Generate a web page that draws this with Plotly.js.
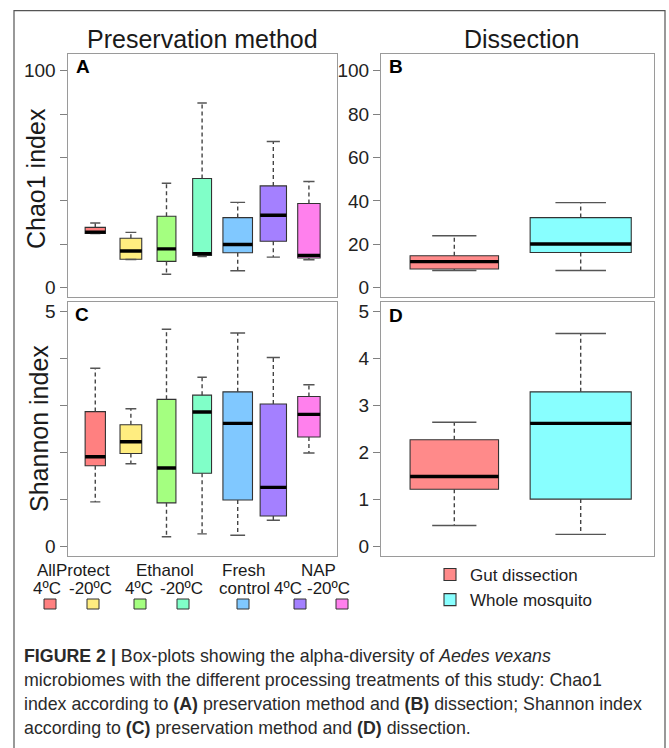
<!DOCTYPE html>
<html>
<head>
<meta charset="utf-8">
<script src="https://cdn.plot.ly/plotly-3.0.1.min.js"></script>
<style>html,body{margin:0;padding:0;background:#fff;}#chart{width:669px;height:748px;}</style>
</head>
<body>
<div id="chart"></div>
<script>
// ---------- DATA ----------
const methods = ['AllProtect 4ºC', 'AllProtect -20ºC', 'Ethanol 4ºC', 'Ethanol -20ºC', 'Fresh control', 'NAP 4ºC', 'NAP -20ºC'];
const chaoMethodLower = [24.9, 13.0, 6.2, 14.4, 7.8, 14.1, 12.9];
const chaoMethodQ1    = [25.0, 13.1, 12.1, 14.9, 16.1, 21.4, 13.7];
const chaoMethodMed   = [25.6, 16.9, 17.9, 15.7, 19.9, 33.4, 14.9];
const chaoMethodQ3    = [27.8, 22.8, 32.9, 50.3, 32.3, 46.9, 38.8];
const chaoMethodUpper = [29.8, 25.5, 48.1, 85.1, 39.3, 67.4, 48.9];

const shanMethodLower = [0.95, 1.76, 0.21, 0.27, 0.24, 0.56, 1.99];
const shanMethodQ1    = [1.72, 1.98, 0.93, 1.56, 0.99, 0.65, 2.33];
const shanMethodMed   = [1.91, 2.23, 1.67, 2.86, 2.62, 1.26, 2.81];
const shanMethodQ3    = [2.87, 2.59, 3.13, 3.22, 3.29, 3.03, 3.19];
const shanMethodUpper = [3.79, 2.93, 4.62, 3.60, 4.54, 4.02, 3.44];

const dissections = ['Gut dissection', 'Whole mosquito'];
const chaoDissLower = [7.9, 7.9];
const chaoDissQ1    = [8.6, 16.2];
const chaoDissMed   = [12.0, 20.1];
const chaoDissQ3    = [14.7, 32.3];
const chaoDissUpper = [23.9, 39.2];

const shanDissLower = [0.45, 0.26];
const shanDissQ1    = [1.22, 1.01];
const shanDissMed   = [1.49, 2.62];
const shanDissQ3    = [2.27, 3.29];
const shanDissUpper = [2.645, 4.53];

const chaoTicks = [0, 20, 40, 60, 80, 100];
const chaoTickTextA = ['0', '', '', '', '', '100'];
const chaoTickTextB = ['0', '20', '40', '60', '80', '100'];
const shanTicks = [0, 1, 2, 3, 4, 5];
const shanTickTextC = ['0', '', '', '', '', '5'];
const shanTickTextD = ['0', '1', '2', '3', '4', '5'];

const groupLabels = ['AllProtect', 'Ethanol', 'Fresh', 'NAP'];
const subLabels = ['4ºC', '-20ºC', '4ºC', '-20ºC', 'control', '4ºC', '-20ºC'];

// ---------- STYLE ----------
const methodColors = ['#FF8080', '#FFED80', '#A4FF80', '#80FFC8', '#80C8FF', '#A480FF', '#FF80ED'];
const dissColors = ['#FF8A8A', '#88FFFF'];
const methodWidths = [0.57, 0.61, 0.53, 0.53, 0.83, 0.74, 0.63];
const dissWidths = [0.70, 0.80];
const FONT = 'Liberation Sans, Arial, sans-serif';
const W = 669, H = 748;
const px = x => x / W;
const py = y => 1 - y / H;

const traces = [];
function addBoxes(names, lower, q1, med, q3, upper, colors, widths, xa, ya, legend) {
  const wx = [], wy = [], cx = [], cy = [], mx = [], my = [];
  names.forEach((n, i) => {
    const pos = i + 1;
    traces.push({
      type: 'box', name: n, x: [pos],
      q1: [q1[i]], median: [med[i]], q3: [q3[i]],
      lowerfence: [q1[i]], upperfence: [q3[i]],
      width: widths[i], whiskerwidth: 0,
      fillcolor: colors[i], line: { color: '#333333', width: 1.1 },
      xaxis: xa, yaxis: ya, showlegend: legend, hoverinfo: 'skip'
    });
    const h = widths[i] / 2, c = widths[i] / 4;
    wx.push(pos, pos, null, pos, pos, null);
    wy.push(q3[i], upper[i], null, q1[i], lower[i], null);
    cx.push(pos - c, pos + c, null, pos - c, pos + c, null);
    cy.push(upper[i], upper[i], null, lower[i], lower[i], null);
    mx.push(pos - h, pos + h, null);
    my.push(med[i], med[i], null);
  });
  traces.push({ type: 'scatter', mode: 'lines', x: wx, y: wy, xaxis: xa, yaxis: ya, showlegend: false, hoverinfo: 'skip',
    line: { color: '#444', width: 1.4, dash: '4px,3px' } });
  traces.push({ type: 'scatter', mode: 'lines', x: cx, y: cy, xaxis: xa, yaxis: ya, showlegend: false, hoverinfo: 'skip',
    line: { color: '#555', width: 1.4 } });
  traces.push({ type: 'scatter', mode: 'lines', x: mx, y: my, xaxis: xa, yaxis: ya, showlegend: false, hoverinfo: 'skip',
    line: { color: '#000', width: 3.4 } });
}

addBoxes(methods, chaoMethodLower, chaoMethodQ1, chaoMethodMed, chaoMethodQ3, chaoMethodUpper, methodColors, methodWidths, 'x', 'y', false);
addBoxes(dissections, chaoDissLower, chaoDissQ1, chaoDissMed, chaoDissQ3, chaoDissUpper, dissColors, dissWidths, 'x2', 'y2', false);
addBoxes(methods, shanMethodLower, shanMethodQ1, shanMethodMed, shanMethodQ3, shanMethodUpper, methodColors, methodWidths, 'x3', 'y3', false);
addBoxes(dissections, shanDissLower, shanDissQ1, shanDissMed, shanDissQ3, shanDissUpper, dissColors, dissWidths, 'x4', 'y4', true);

const axBase = {
  showgrid: false, zeroline: false, showline: true, mirror: true,
  linecolor: '#9a9a9a', linewidth: 1, fixedrange: true
};
const xBase = Object.assign({}, axBase, { showticklabels: false, ticks: '' });
const yBase = Object.assign({}, axBase, {
  ticks: 'outside', ticklen: 7, tickcolor: '#808080', tickwidth: 1,
  tickfont: { family: FONT, size: 19, color: '#222' }, tickmode: 'array'
});

const colL = [px(67.5), px(336.7)];
const colR = [px(381), px(654)];
const rowT = [py(297), py(54)];
const rowB = [py(556), py(302)];

const annotations = [];
function ann(text, x, y, size, opts) {
  annotations.push(Object.assign({
    text: text, x: px(x), y: py(y), xref: 'paper', yref: 'paper', showarrow: false,
    font: { family: FONT, size: size, color: '#1a1a1a' }, xanchor: 'center', yanchor: 'middle'
  }, opts || {}));
}
ann('Preservation method', 202, 39, 25);
ann('Dissection', 521, 39, 25);
ann('Chao1 index', 36, 179, 25, { textangle: -90 });
ann('Shannon index', 39, 429, 25, { textangle: -90 });
ann('<b>A</b>', 74, 66, 19, { xanchor: 'left', font: { family: FONT, size: 19, color: '#000' } });
ann('<b>B</b>', 387, 66, 19, { xanchor: 'left', font: { family: FONT, size: 19, color: '#000' } });
ann('<b>C</b>', 73, 314, 19, { xanchor: 'left', font: { family: FONT, size: 19, color: '#000' } });
ann('<b>D</b>', 387, 315, 19, { xanchor: 'left', font: { family: FONT, size: 19, color: '#000' } });

const groupX = [73, 165, 243, 318];
groupLabels.forEach((t, i) => ann(t, groupX[i], 570, 17));
const subX = [47, 90, 139, 181, 244, 288, 328];
subLabels.forEach((t, i) => ann(t, subX[i], 588, 17));

const shapes = [
  { type: 'rect', xref: 'paper', yref: 'paper', x0: px(14), x1: px(665), y0: -0.05, y1: py(10.7),
    line: { color: '#555', width: 1.2 }, fillcolor: 'rgba(0,0,0,0)' }
];
const sqX = [50, 93, 140, 183, 243, 300, 342];
methodColors.forEach((c, i) => {
  shapes.push({ type: 'rect', xref: 'paper', yref: 'paper',
    x0: px(sqX[i] - 6), x1: px(sqX[i] + 6), y0: py(609), y1: py(599),
    fillcolor: c, line: { color: '#333', width: 1 } });
});

const capLines = [
  '<b>FIGURE 2 |</b> Box-plots showing the alpha-diversity of <i>Aedes vexans</i>',
  'microbiomes with the different processing treatments of this study: Chao1',
  'index according to <b>(A)</b> preservation method and <b>(B)</b> dissection; Shannon index',
  'according to <b>(C)</b> preservation method and <b>(D)</b> dissection.'
];
const capY = [656, 680, 704, 728];
capLines.forEach((t, i) => ann(t, 22, capY[i], 17.8, { xanchor: 'left', font: { family: FONT, size: 17.8, color: '#2a2a2a' } }));

const layout = {
  width: W, height: H, margin: { l: 0, r: 0, t: 0, b: 0 },
  paper_bgcolor: '#fff', plot_bgcolor: '#fff', showlegend: true,
  legend: { x: px(430), y: py(557), xanchor: 'left', yanchor: 'top', bgcolor: 'rgba(0,0,0,0)',
    font: { family: FONT, size: 17, color: '#222' }, tracegroupgap: 0 },
  xaxis: Object.assign({}, xBase, { domain: colL, range: [0.22, 7.78], anchor: 'y' }),
  yaxis: Object.assign({}, yBase, { domain: rowT, range: [-4.3, 107.7], anchor: 'x', tickvals: chaoTicks, ticktext: chaoTickTextA }),
  xaxis2: Object.assign({}, xBase, { domain: colR, range: [0.42, 2.58], anchor: 'y2' }),
  yaxis2: Object.assign({}, yBase, { domain: rowT, range: [-4.3, 107.7], anchor: 'x2', tickvals: chaoTicks, ticktext: chaoTickTextB }),
  xaxis3: Object.assign({}, xBase, { domain: colL, range: [0.22, 7.78], anchor: 'y3' }),
  yaxis3: Object.assign({}, yBase, { domain: rowB, range: [-0.2, 5.2], anchor: 'x3', tickvals: shanTicks, ticktext: shanTickTextC }),
  xaxis4: Object.assign({}, xBase, { domain: colR, range: [0.42, 2.58], anchor: 'y4' }),
  yaxis4: Object.assign({}, yBase, { domain: rowB, range: [-0.2, 5.2], anchor: 'x4', tickvals: shanTicks, ticktext: shanTickTextD }),
  annotations: annotations, shapes: shapes
};

Plotly.newPlot('chart', traces, layout, { staticPlot: true, displayModeBar: false });
</script>
</body>
</html>
